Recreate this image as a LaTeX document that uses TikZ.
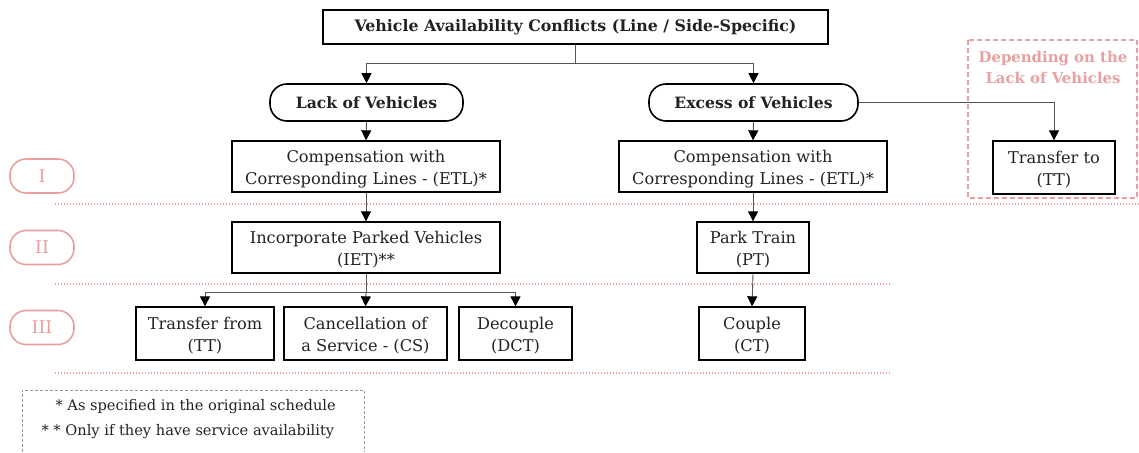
\documentclass[tikz,border=0pt]{standalone}
\usepackage{fontspec}
\setmainfont{DejaVu Serif}
\usetikzlibrary{arrows.meta}
\definecolor{pinkc}{HTML}{E8A0A0}
\definecolor{txt}{HTML}{222222}
\definecolor{conn}{HTML}{555555}
\newcommand{\lowtxt}[1]{\raisebox{-3pt}[\height][\depth]{\begin{tabular}{@{}c@{}}#1\end{tabular}}}
\begin{document}
\begin{tikzpicture}[x=1pt,y=-1pt,
  txtfont/.style={font=\fontsize{16.2}{22}\selectfont, text=txt},
  sbox/.style={draw=black, line width=1.3pt, inner sep=0pt, txtfont, minimum width=#1, minimum height=51pt},
  pill/.style={draw=black, line width=1.6pt, rounded corners=17pt, inner sep=0pt, minimum height=37pt, minimum width=#1, font=\bfseries\fontsize{15.6}{21}\selectfont, text=txt},
  rpill/.style={draw=pinkc, line width=1.6pt, rounded corners=16pt, inner sep=0pt, minimum height=34pt, minimum width=64pt, text=pinkc, font=\fontsize{17.5}{18}\selectfont},
  conn/.style={draw=conn, line width=0.9pt},
  arr/.style={conn, -{Triangle[width=10pt,length=10pt,color=black]}},
  dotl/.style={draw=pinkc, line width=1.3pt, dash pattern=on 1.3pt off 1.7pt}
]
\useasboundingbox (0,0) rectangle (1139,452);
% top
\node[draw=black, line width=1.2pt, minimum width=505pt, minimum height=34pt, inner sep=0pt, font=\bfseries\fontsize{15.8}{21}\selectfont, text=txt] (top) at (575.5,27) {Vehicle Availability Conflicts (Line / Side-Specific)};
\node[pill=193pt] (lack) at (366.5,102.5) {Lack of Vehicles};
\node[pill=209pt] (excess) at (753.5,102.5) {Excess of Vehicles};
\node[sbox=268pt] (etl1) at (366,166.5) {\lowtxt{Compensation with\\Corresponding Lines -\ (ETL)*}};
\node[sbox=268pt] (etl2) at (753,166.5) {\lowtxt{Compensation with\\Corresponding Lines -\ (ETL)*}};
\node[sbox=122pt, minimum height=53pt] (tto) at (1054,167.5) {\lowtxt{Transfer to\\(TT)}};
\node[sbox=268pt] (iet) at (366,247.5) {\lowtxt{Incorporate Parked Vehicles\\(IET)**}};
\node[sbox=112pt] (pt) at (753,247.5) {\lowtxt{Park Train\\(PT)}};
\node[sbox=138pt, minimum height=53pt] (tfrom) at (205,333.5) {\lowtxt{Transfer from\\(TT)}};
\node[sbox=163pt, minimum height=53pt] (cs) at (365.5,333.5) {\lowtxt{Cancellation of\\a Service -\ (CS)}};
\node[sbox=113pt, minimum height=53pt] (dct) at (515.5,333.5) {\lowtxt{Decouple\\(DCT)}};
\node[sbox=106pt, minimum height=53pt] (ct) at (752,333.5) {\lowtxt{Couple\\(CT)}};
% roman pills
\node[rpill] (r1) at (42,176) {I};
\node[rpill] (r2) at (42,247.5) {II};
\node[rpill] (r3) at (42,327.5) {III};
% pink dashed box
\draw[draw=pinkc, line width=1.8pt, dash pattern=on 5pt off 3pt] (968,40) rectangle (1137,198);
\node[text=pinkc, font=\bfseries\fontsize{14.9}{21}\selectfont, align=center] (dep) at (1053,67) {Depending on the\\Lack of Vehicles};
% dotted lines
\draw[dotl] (55,204) -- (1139,204);
\draw[dotl] (55,284) -- (890,284);
\draw[dotl] (55,373) -- (890,373);
% footnote
\draw[draw=gray!80, line width=0.9pt, dash pattern=on 3pt off 2pt] (22,452) -- (22,390) -- (364,390) -- (364,452);
\node[txtfont, font=\fontsize{14.6}{25}\selectfont, align=left, anchor=north west] (fn) at (38,396) {\hspace*{14pt}* As specified in the original schedule\\* * Only if they have service availability};
% connectors
\coordinate (j1) at (575.5,63);
\draw[conn] (top.south) -- (j1);
\draw[arr] (j1) -| (lack.north);
\draw[arr] (j1) -| (excess.north);
\draw[arr] (lack.south) -- (etl1.north);
\draw[arr] (excess.south) -- (etl2.north);
\draw[arr] (excess.east) -| (tto.north);
\draw[arr] (etl1.south) -- (iet.north);
\draw[arr] (etl2.south) -- (pt.north);
\draw[arr] (pt.south) -- (ct.north);
\coordinate (j2) at (366,292);
\draw[conn] (iet.south) -- (j2);
\draw[arr] (j2) -| (tfrom.north);
\draw[arr] (j2) -- (cs.north);
\draw[arr] (j2) -| (dct.north);
\end{tikzpicture}
\end{document}
